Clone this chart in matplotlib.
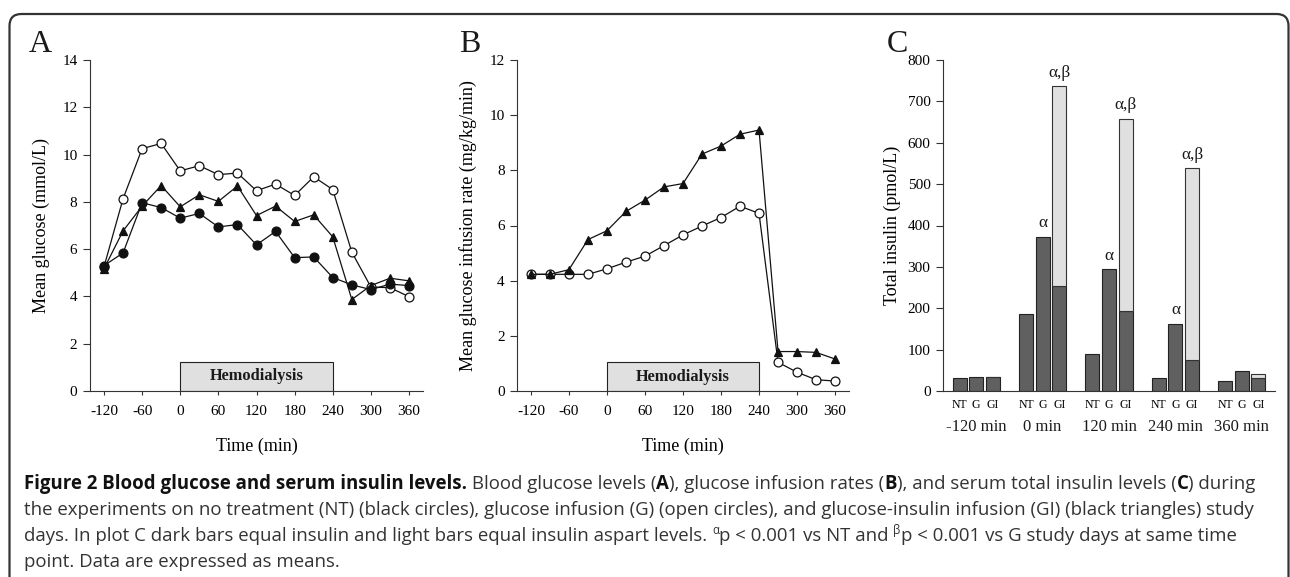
import numpy as np
import matplotlib
matplotlib.use("Agg")
import matplotlib.pyplot as plt
from matplotlib.patches import Rectangle, FancyBboxPatch
from matplotlib.transforms import IdentityTransform

W, H = 1290, 577

# time points (min) for panels A and B
time_min = [-120, -90, -60, -30, 0, 30, 60, 90, 120, 150, 180, 210, 240, 270, 300, 330, 360]

# A: mean glucose (mmol/L)
glu_nt = [5.30, 5.84, 7.96, 7.76, 7.31, 7.51, 6.94, 7.04, 6.18, 6.75, 5.64, 5.67, 4.80, 4.49, 4.29, 4.52, 4.46]
glu_g = [5.25, 8.13, 10.25, 10.47, 9.31, 9.53, 9.15, 9.22, 8.47, 8.75, 8.27, 9.06, 8.52, 5.87, 4.40, 4.37, 3.99]
glu_gi = [5.17, 6.77, 7.82, 8.69, 7.79, 8.30, 8.02, 8.67, 7.42, 7.82, 7.17, 7.45, 6.52, 3.87, 4.46, 4.77, 4.66]

# B: glucose infusion rate (mg/kg/min)
gir_g = [4.23, 4.23, 4.23, 4.23, 4.43, 4.67, 4.89, 5.27, 5.66, 5.98, 6.29, 6.70, 6.44, 1.04, 0.68, 0.41, 0.36]
gir_gi = [4.23, 4.23, 4.40, 5.49, 5.81, 6.51, 6.92, 7.40, 7.52, 8.59, 8.88, 9.31, 9.46, 1.43, 1.43, 1.40, 1.16]

# C: total insulin (pmol/L)
groups = ["-120 min", "0 min", "120 min", "240 min", "360 min"]
days = ["NT", "G", "GI"]
ins_nt = [32, 185, 89, 31, 25]
ins_g = [35, 373, 294, 163, 49]
ins_gi = [35, 254, 194, 74, 31]          # insulin (dark)
ins_gi_total = [35, 737, 658, 538, 40]   # insulin + insulin aspart
sig_g = ["", "α", "α", "α", ""]
sig_gi = ["", "α,β", "α,β", "α,β", ""]

serif = "Liberation Serif"
plt.rcParams["font.family"] = serif
plt.rcParams["text.color"] = "#1a1a1a"
plt.rcParams["axes.unicode_minus"] = False

fig = plt.figure(figsize=(W / 100, H / 100), dpi=100)


def rect(l, t, r, b):
    return [l / W, 1 - b / H, (r - l) / W, (b - t) / H]


def style_axes(ax):
    for s in ["top", "right"]:
        ax.spines[s].set_visible(False)
    for s in ["left", "bottom"]:
        ax.spines[s].set_linewidth(0.8)
        ax.spines[s].set_color("#333333")
    ax.tick_params(axis="y", direction="out", length=5, width=0.8, color="#333333",
                   labelsize=11, pad=4)
    ax.tick_params(axis="x", direction="out", length=3, width=0.8, color="#333333",
                   labelsize=11, pad=7)


def time_panel(ax, ymax, ylabel, series, box_top):
    ax.set_xlim(-142, 382)
    ax.set_ylim(0, ymax)
    ax.set_xticks(range(-120, 361, 60))
    ax.set_yticks(range(0, ymax + 1, 2))
    ax.add_patch(Rectangle((0, 0), 240, box_top, fc="#e0e0e0", ec="#222222", lw=0.8, zorder=1))
    ax.text(120, box_top * 0.5, "Hemodialysis", ha="center", va="center",
            fontweight="bold", fontsize=11.8, zorder=2)
    for y, marker, mfc, ms in series:
        ax.plot(time_min, y, color="#111111", lw=0.9, marker=marker, ms=ms,
                mfc=mfc, mec="#111111", mew=0.9, zorder=3, clip_on=False)
    ax.set_ylabel(ylabel, fontsize=13, labelpad=9)
    ax.set_xlabel("Time (min)", fontsize=13, labelpad=14)
    style_axes(ax)


# panel A
axA = fig.add_axes(rect(90, 60, 423, 391))
time_panel(axA, 14, "Mean glucose (mmol/L)",
           [(glu_g, "o", "white", 6.4), (glu_nt, "o", "#111111", 6.4), (glu_gi, "^", "#111111", 6.4)],
           1.23)

# panel B
axB = fig.add_axes(rect(517, 60, 849, 391))
time_panel(axB, 12, "Mean glucose infusion rate (mg/kg/min)",
           [(gir_g, "o", "white", 6.4), (gir_gi, "^", "#111111", 6.4)],
           1.05)

# panel C
axC = fig.add_axes(rect(943, 60, 1275, 391))
width = 0.85
pos_nt = [g * 4 for g in range(len(groups))]
pos_g = [g * 4 + 1 for g in range(len(groups))]
pos_gi = [g * 4 + 2 for g in range(len(groups))]
aspart = [t - d for t, d in zip(ins_gi_total, ins_gi)]
dark = "#606060"
axC.bar(pos_nt, ins_nt, width, color=dark, ec="#222222", lw=0.8)
axC.bar(pos_g, ins_g, width, color=dark, ec="#222222", lw=0.8)
axC.bar(pos_gi, ins_gi, width, color=dark, ec="#222222", lw=0.8)
axC.bar(pos_gi, aspart, width, bottom=ins_gi, color="#e0e0e0", ec="#333333", lw=0.8)
for x, h, s in zip(pos_g, ins_g, sig_g):
    if s:
        axC.annotate(s, (x, h), xytext=(0, 4), textcoords="offset points",
                     ha="center", va="bottom", fontsize=12.5)
for x, h, s in zip(pos_gi, ins_gi_total, sig_gi):
    if s:
        axC.annotate(s, (x, h), xytext=(0, 4), textcoords="offset points",
                     ha="center", va="bottom", fontsize=12.5)
axC.set_xlim(-1, 19)
axC.set_ylim(0, 800)
axC.set_yticks(range(0, 801, 100))
ticks = sorted(pos_nt + pos_g + pos_gi)
axC.set_xticks(ticks)
axC.set_xticklabels(days * len(groups))
style_axes(axC)
axC.tick_params(axis="x", length=0, labelsize=8.5, pad=6)
for g, name in enumerate(groups):
    axC.text(g * 4 + 1, -36 / 331 * 800, name, ha="center", va="center", fontsize=12, clip_on=False)
axC.set_ylabel("Total insulin (pmol/L)", fontsize=13, labelpad=5)

# panel letters
for lbl, x in [("A", 40), ("B", 470), ("C", 897)]:
    fig.text(x / W, 1 - 44 / H, lbl, ha="center", va="center", fontsize=23)

# frame
fig.patches.append(FancyBboxPatch((9.5, -40), 1280 - 9.5 + 8.5, H - 14 + 40,
                                  boxstyle="round,pad=0,rounding_size=12",
                                  fc="none", ec="#333333", lw=1.6,
                                  transform=IdentityTransform(), figure=fig))

# caption
cap_font = "Open Sans"
renderer = fig.canvas.get_renderer()


def text_w(s, size, weight="normal"):
    t = fig.text(0, 0, s + "|", fontsize=size, family=cap_font, fontweight=weight)
    t2 = fig.text(0, 0, "|", fontsize=size, family=cap_font, fontweight=weight)
    w = t.get_window_extent(renderer).width - t2.get_window_extent(renderer).width
    t.remove()
    t2.remove()
    return w


lines = [
    [("Figure 2 Blood glucose and serum insulin levels.", "b"),
     (" Blood glucose levels (", "n"), ("A", "b"), ("), glucose infusion rates (", "n"),
     ("B", "b"), ("), and serum total insulin levels (", "n"), ("C", "b"), (") during", "n")],
    [("the experiments on no treatment (NT) (black circles), glucose infusion (G) (open circles), "
      "and glucose-insulin infusion (GI) (black triangles) study", "n")],
    [("days. In plot C dark bars equal insulin and light bars equal insulin aspart levels. ", "n"),
     ("α", "s"), ("p < 0.001 vs NT and ", "n"), ("β", "s"), ("p < 0.001 vs G study days at same time", "n")],
    [("point. Data are expressed as means.", "n")],
]
size = 10 * 1226 / text_w(lines[1][0][0], 10)
baselines = [489, 515, 541, 567]
for runs, yb in zip(lines, baselines):
    x = 24
    for s, st in runs:
        fs = size * 0.62 if st == "s" else size
        wt = "bold" if st == "b" else "normal"
        col = "#111111" if st == "b" else "#333333"
        dy = size * 0.55 if st == "s" else 0
        fig.text(x / W, 1 - (yb - dy) / H, s, fontsize=fs, family=cap_font,
                 fontweight=wt, color=col, va="baseline", ha="left")
        x += text_w(s, fs, wt)

fig.savefig("out.png", dpi=100)
